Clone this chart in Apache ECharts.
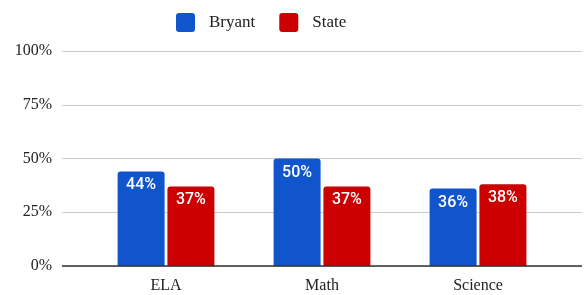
<!DOCTYPE html>
<html>
<head>
<meta charset="utf-8">
<script src="https://cdn.jsdelivr.net/npm/echarts@6/dist/echarts.min.js"></script>
<style>
  html, body { margin: 0; padding: 0; background: #fff; }
  #chart { width: 584px; height: 295px; }
</style>
</head>
<body>
<div id="chart"></div>
<script>
// data
var categories = ["ELA", "Math", "Science"];
var bryant = [44, 50, 36];
var state = [37, 37, 38];
var yTicks = [0, 25, 50, 75, 100];

var serif = "'Liberation Serif', 'Times New Roman', serif";

var chart = echarts.init(document.getElementById("chart"));

// bar label
var barLabel = {
  show: true,
  position: "insideTop",
  distance: 6,
  color: "#fff",
  fontFamily: "Roboto, Arial, sans-serif",
  fontWeight: 500,
  fontSize: 16,
  formatter: "{c}%"
};

var option = {
  animation: false,
  legend: {
    top: 8,
    left: 171,
    itemWidth: 19,
    itemHeight: 19,
    itemGap: 24,
    icon: "path://M3,0 L16,0 Q19,0 19,3 L19,16 Q19,19 16,19 L3,19 Q0,19 0,16 L0,3 Q0,0 3,0 Z",
    textStyle: { fontFamily: serif, fontSize: 17, color: "#222", padding: [0, 0, 0, 9] },
    data: ["Bryant", "State"]
  },
  grid: [
    // background grid with the y ticks (full width lines)
    { left: 62, right: 2, top: 51, bottom: 29 },
    // bars
    { left: 88, right: 28, top: 51, bottom: 29 }
  ],
  xAxis: [
    {
      gridIndex: 0,
      type: "category",
      data: categories,
      show: false
    },
    {
      gridIndex: 1,
      type: "category",
      data: categories,
      axisTick: { show: false },
      axisLine: { show: false },
      axisLabel: { fontFamily: serif, fontSize: 16, color: "#222", margin: 12 }
    }
  ],
  yAxis: [
    {
      gridIndex: 0,
      type: "value",
      min: 0,
      max: 100,
      interval: 25,
      axisLine: { show: false },
      axisTick: { show: false },
      axisLabel: {
        fontFamily: serif,
        fontSize: 16,
        color: "#222",
        margin: 10,
        formatter: function (v) { return yTicks.indexOf(v) >= 0 ? v + "%" : ""; }
      },
      splitLine: { lineStyle: { color: "#cccccc", width: 1 } }
    },
    {
      gridIndex: 1,
      type: "value",
      min: 0,
      max: 100,
      interval: 25,
      show: false,
      splitLine: { show: false }
    }
  ],
  series: [
    {
      // baseline
      type: "line",
      xAxisIndex: 0,
      yAxisIndex: 0,
      data: [],
      markLine: {
        silent: true,
        symbol: "none",
        label: { show: false },
        lineStyle: { color: "#333", width: 1.5, type: "solid" },
        data: [{ yAxis: 0 }]
      }
    },
    {
      name: "Bryant",
      type: "bar",
      xAxisIndex: 1,
      yAxisIndex: 1,
      data: bryant,
      barWidth: 47,
      barGap: "6%",
      itemStyle: { color: "#1155cc", borderRadius: [3, 3, 0, 0] },
      label: barLabel
    },
    {
      name: "State",
      type: "bar",
      xAxisIndex: 1,
      yAxisIndex: 1,
      data: state,
      barWidth: 47,
      barGap: "6%",
      itemStyle: { color: "#cc0000", borderRadius: [3, 3, 0, 0] },
      label: barLabel
    }
  ]
};

chart.setOption(option);
</script>
</body>
</html>
